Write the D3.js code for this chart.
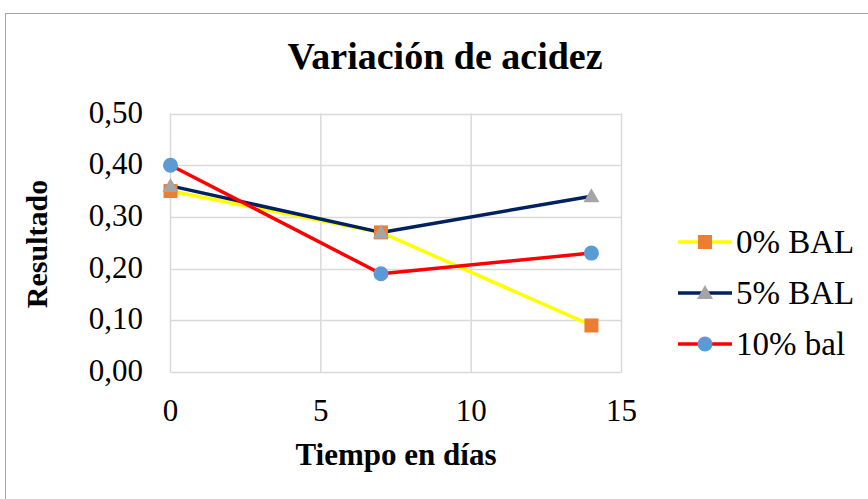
<!DOCTYPE html>
<html>
<head>
<meta charset="utf-8">
<script src="https://d3js.org/d3.v7.min.js"></script>
<style>
    body { margin: 0; background: #fff; }
    svg text { font-family: "Liberation Serif", "Times New Roman", serif; fill: #000; }
</style>
</head>
<body>
<svg width="868" height="499"></svg>
<script>
    // data
    const days = [0, 7, 14];
    const bal0 = [0.35, 0.27, 0.09];
    const bal5 = [0.36, 0.27, 0.34];
    const bal10 = [0.40, 0.19, 0.23];
    const seriesNames = ['0% BAL', '5% BAL', '10% bal'];
    const xTicks = [0, 5, 10, 15];
    const yTicks = [0, 0.1, 0.2, 0.3, 0.4, 0.5];

    const series = [
        { name: seriesNames[0], values: bal0, line: '#ffff00', marker: '#ed7d31', shape: 'square' },
        { name: seriesNames[1], values: bal5, line: '#002060', marker: '#a5a5a5', shape: 'triangle' },
        { name: seriesNames[2], values: bal10, line: '#ff0000', marker: '#5b9bd5', shape: 'circle' }
    ];

    const svg = d3.select('svg');

    // outer chart border
    svg.append('rect')
        .attr('x', 5.5).attr('y', 13.5)
        .attr('width', 900).attr('height', 600)
        .attr('fill', 'none').attr('stroke', '#a6a6a6').attr('stroke-width', 1);

    const xs = d3.scaleLinear().domain([0, 15]).range([170.5, 621.5]);
    const ys = d3.scaleLinear().domain([0, 0.5]).range([372, 113.5]);

    // gridlines
    svg.append('g').selectAll('line').data(yTicks).enter().append('line')
        .attr('x1', xs(0)).attr('x2', xs(15))
        .attr('y1', d => Math.round(ys(d)) + 0.5).attr('y2', d => Math.round(ys(d)) + 0.5)
        .attr('stroke', '#d9d9d9').attr('stroke-width', 1.5);
    svg.append('g').selectAll('line').data(xTicks).enter().append('line')
        .attr('y1', ys(0)).attr('y2', ys(0.5))
        .attr('x1', d => xs(d)).attr('x2', d => xs(d))
        .attr('stroke', '#d9d9d9').attr('stroke-width', 1.5);

    // tick labels
    svg.append('g').selectAll('text').data(yTicks).enter().append('text')
        .attr('x', 143).attr('y', d => ys(d) + 9)
        .attr('text-anchor', 'end')
        .style('font-size', '31px')
        .text(d => d3.format('.2f')(d).replace('.', ','));
    svg.append('g').selectAll('text').data(xTicks).enter().append('text')
        .attr('x', d => xs(d)).attr('y', 421)
        .attr('text-anchor', 'middle')
        .style('font-size', '31px')
        .text(d => d);

    // lines
    const line = d3.line()
        .x((d, i) => xs(days[i]))
        .y(d => ys(d));

    svg.append('g').selectAll('path').data(series).enter().append('path')
        .attr('d', d => line(d.values))
        .attr('fill', 'none')
        .attr('stroke', d => d.line)
        .attr('stroke-width', 3.5)
        .attr('stroke-linejoin', 'round');

    function drawMarker(g, s, x, y) {
        if (s.shape === 'square') {
            g.append('rect').attr('x', x - 7).attr('y', y - 7)
                .attr('width', 14).attr('height', 14).attr('fill', s.marker);
        } else if (s.shape === 'triangle') {
            g.append('path')
                .attr('d', `M${x},${y - 8}L${x + 8},${y + 6}L${x - 8},${y + 6}Z`)
                .attr('fill', s.marker);
        } else {
            g.append('circle').attr('cx', x).attr('cy', y).attr('r', 7.5).attr('fill', s.marker);
        }
    }

    const markers = svg.append('g');
    series.forEach(s => {
        s.values.forEach((v, i) => drawMarker(markers, s, xs(days[i]), ys(v)));
    });

    // title
    svg.append('text')
        .attr('x', 445).attr('y', 69)
        .attr('text-anchor', 'middle')
        .style('font-size', '38px').style('font-weight', 'bold')
        .text('Variación de acidez');

    // axis titles
    svg.append('text')
        .attr('x', 396).attr('y', 465)
        .attr('text-anchor', 'middle')
        .style('font-size', '31px').style('font-weight', 'bold')
        .text('Tiempo en días');
    svg.append('text')
        .attr('transform', 'translate(47,244) rotate(-90)')
        .attr('text-anchor', 'middle')
        .style('font-size', '30px').style('font-weight', 'bold')
        .text('Resultado');

    // legend
    const legY = [242, 293, 344];
    const leg = svg.append('g');
    series.forEach((s, i) => {
        leg.append('line')
            .attr('x1', 678).attr('x2', 732)
            .attr('y1', legY[i]).attr('y2', legY[i])
            .attr('stroke', s.line).attr('stroke-width', 3.5);
        drawMarker(leg, s, 705, legY[i]);
        leg.append('text')
            .attr('x', 736).attr('y', legY[i] + 11)
            .style('font-size', '33px')
            .text(s.name);
    });
</script>
</body>
</html>
